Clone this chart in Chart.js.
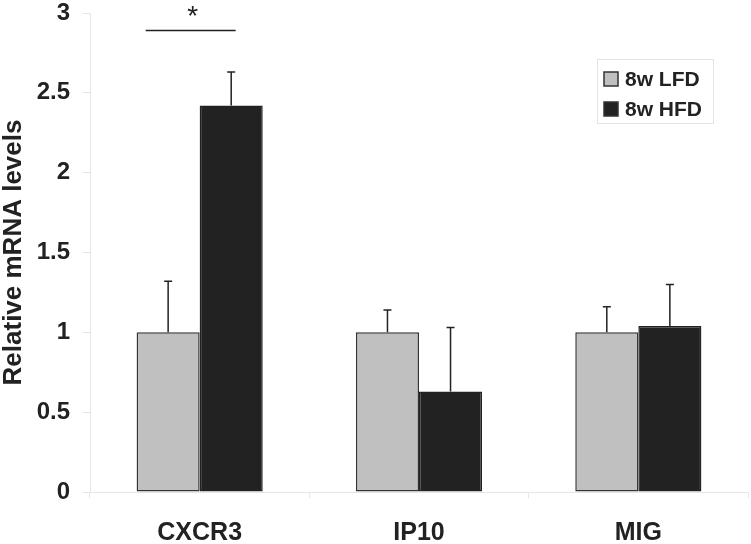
<!DOCTYPE html>
<html>
<head>
<meta charset="utf-8">
<script src="https://cdn.jsdelivr.net/npm/chart.js@4.4.0/dist/chart.umd.min.js"></script>
<style>
  html, body { margin: 0; padding: 0; background: #fff; }
  #wrap { position: relative; width: 751px; height: 544px; }
</style>
</head>
<body>
<div id="wrap"><canvas id="mrnaChart"></canvas></div>
<script>
/* ---------- data ---------- */
const genes    = ['CXCR3', 'IP10', 'MIG'];
const lfdVals  = [1.00, 1.00, 1.00];
const lfdErr   = [0.32, 0.14, 0.16];
const hfdVals  = [2.42, 0.63, 1.04];
const hfdErr   = [0.21, 0.40, 0.26];
const yTicks   = [0, 0.5, 1, 1.5, 2, 2.5, 3];
// significance marks: category index + height of the bar
const sigCats  = [0];
const sigLevel = [2.89];

const FONT = 'Liberation Sans, Arial, sans-serif';
const INK  = '#222222';

/* error bars (upward only) */
const errorBars = {
  id: 'errorBars',
  afterDatasetsDraw(chart) {
    const { ctx, scales: { y } } = chart;
    const errs = [lfdErr, hfdErr];
    ctx.save();
    ctx.strokeStyle = INK;
    ctx.lineWidth = 1.5;
    chart.data.datasets.forEach((ds, i) => {
      chart.getDatasetMeta(i).data.forEach((bar, j) => {
        const top = y.getPixelForValue(ds.data[j] + errs[i][j]);
        ctx.beginPath();
        ctx.moveTo(bar.x, bar.y);
        ctx.lineTo(bar.x, top);
        ctx.moveTo(bar.x - 4, top);
        ctx.lineTo(bar.x + 4, top);
        ctx.stroke();
      });
    });
    ctx.restore();
  }
};

/* significance line + asterisk */
const sigMarks = {
  id: 'sigMarks',
  afterDatasetsDraw(chart) {
    const { ctx, scales: { x, y } } = chart;
    ctx.save();
    sigCats.forEach((c, k) => {
      const cx = x.getPixelForValue(c) - 9;
      const py = y.getPixelForValue(sigLevel[k]);
      ctx.strokeStyle = INK;
      ctx.lineWidth = 1.5;
      ctx.beginPath();
      ctx.moveTo(cx - 45, py);
      ctx.lineTo(cx + 45, py);
      ctx.stroke();
      ctx.fillStyle = INK;
      ctx.font = '28px ' + FONT;
      ctx.textAlign = 'center';
      ctx.textBaseline = 'alphabetic';
      ctx.fillText('*', cx + 2, py - 6);
    });
    ctx.restore();
  }
};

/* boxed legend in the upper right corner */
const boxLegend = {
  id: 'boxLegend',
  afterDraw(chart) {
    const { ctx } = chart;
    const bx = 597, by = 59, bw = 116, bh = 64;
    ctx.save();
    ctx.strokeStyle = '#e4e4e4';
    ctx.lineWidth = 1;
    ctx.strokeRect(bx + 0.5, by + 0.5, bw, bh);
    ctx.font = 'bold 21px ' + FONT;
    ctx.textBaseline = 'middle';
    ctx.textAlign = 'left';
    chart.data.datasets.forEach((ds, i) => {
      const cy = by + 20 + i * 30;
      ctx.fillStyle = ds.backgroundColor;
      ctx.fillRect(bx + 7, cy - 7, 14, 14);
      ctx.strokeStyle = '#333';
      ctx.lineWidth = 1.5;
      ctx.strokeRect(bx + 7, cy - 7, 14, 14);
      ctx.fillStyle = INK;
      ctx.fillText(ds.label, bx + 28, cy + 1);
    });
    ctx.restore();
  }
};

new Chart(document.getElementById('mrnaChart'), {
  type: 'bar',
  data: {
    labels: genes,
    datasets: [
      {
        label: '8w LFD',
        data: lfdVals,
        backgroundColor: '#c0c0c0',
        borderColor: '#333333',
        borderWidth: 1.5,
        borderSkipped: false
      },
      {
        label: '8w HFD',
        data: hfdVals,
        backgroundColor: '#222222',
        borderColor: '#222222',
        borderWidth: 1.5,
        borderSkipped: false
      }
    ]
  },
  options: {
    responsive: true,
    maintainAspectRatio: false,
    animation: false,
    categoryPercentage: 0.575,
    barPercentage: 1,
    layout: { padding: { top: 13, right: 3, left: 0, bottom: 0 } },
    plugins: {
      legend: { display: false },
      tooltip: { enabled: false }
    },
    scales: {
      x: {
        grid: { display: true, drawOnChartArea: false, color: '#e6e6e6', tickLength: 6, offset: true },
        border: { display: true, color: '#e6e6e6' },
        ticks: { color: INK, padding: 20, font: { family: FONT, size: 25, weight: 'bold' } },
        afterFit: s => { s.height = 52; }
      },
      y: {
        min: 0, max: 3,
        afterBuildTicks: s => { s.ticks = yTicks.map(v => ({ value: v })); },
        grid: { drawOnChartArea: false, color: '#e6e6e6', tickLength: 7 },
        border: { display: true, color: '#e6e6e6' },
        ticks: {
          color: INK, padding: 13,
          font: { family: FONT, size: 24, weight: 'bold', lineHeight: 1 },
          callback: v => String(v)
        },
        title: {
          display: true,
          text: 'Relative mRNA levels',
          color: INK,
          padding: 0,
          font: { family: FONT, size: 26, weight: 'bold', lineHeight: 1.05 }
        },
        afterFit: s => { s.width = 90; s.paddingTop = 0; s.paddingBottom = 0; }
      }
    }
  },
  plugins: [errorBars, sigMarks, boxLegend]
});
</script>
</body>
</html>
